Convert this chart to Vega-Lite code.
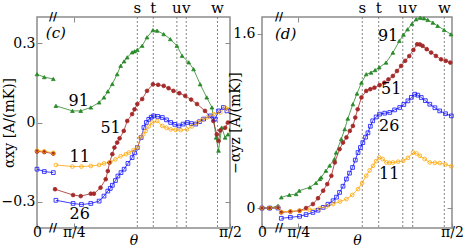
{
  "$schema": "https://vega.github.io/schema/vega-lite/v6.json",
  "background": "white",
  "padding": {"left": 0, "top": 0, "right": 0, "bottom": 0},
  "config": {
    "font": "DejaVu Serif",
    "view": {"stroke": "#8c8c8c", "strokeWidth": 1.5},
    "text": {"font": "DejaVu Serif"},
    "axis": {"domain": false, "grid": false, "labelFont": "DejaVu Serif", "labelFontSize": 14, "labelColor": "black", "tickColor": "#8c8c8c", "tickWidth": 1, "titleFont": "DejaVu Serif", "titleFontSize": 14, "titleFontWeight": "normal", "titleColor": "black", "labelOverlap": false, "labelFlush": false, "labelBound": false}
  },
  "datasets": {
    "L": [
      {"x": 34.4, "y": 0.183, "s": "91", "g": "a"}, {"x": 36.5, "y": 0.172, "s": "91", "g": "a"}, {"x": 39.1, "y": 0.165, "s": "91", "g": "a"},
      {"x": 39.85, "y": 0.063, "s": "91", "g": "b"}, {"x": 44.6, "y": 0.044, "s": "91", "g": "b"}, {"x": 47.0, "y": 0.044, "s": "91", "g": "b"}, {"x": 49.9, "y": 0.057, "s": "91", "g": "b"}, {"x": 52.3, "y": 0.076, "s": "91", "g": "b"}, {"x": 53.7, "y": 0.095, "s": "91", "g": "b"}, {"x": 54.8, "y": 0.118, "s": "91", "g": "b"}, {"x": 56.1, "y": 0.146, "s": "91", "g": "b"}, {"x": 57.5, "y": 0.183, "s": "91", "g": "b"}, {"x": 58.5, "y": 0.215, "s": "91", "g": "b"}, {"x": 59.5, "y": 0.232, "s": "91", "g": "b"}, {"x": 60.4, "y": 0.247, "s": "91", "g": "b"}, {"x": 61.8, "y": 0.266, "s": "91", "g": "b"}, {"x": 62.5, "y": 0.27, "s": "91", "g": "b"}, {"x": 63.3, "y": 0.275, "s": "91", "g": "b"}, {"x": 64.7, "y": 0.291, "s": "91", "g": "b"}, {"x": 66.1, "y": 0.323, "s": "91", "g": "b"}, {"x": 67.8, "y": 0.35, "s": "91", "g": "b"}, {"x": 69.0, "y": 0.348, "s": "91", "g": "b"}, {"x": 70.9, "y": 0.335, "s": "91", "g": "b"}, {"x": 72.8, "y": 0.316, "s": "91", "g": "b"}, {"x": 74.7, "y": 0.291, "s": "91", "g": "b"}, {"x": 76.2, "y": 0.253, "s": "91", "g": "b"}, {"x": 78.1, "y": 0.228, "s": "91", "g": "b"}, {"x": 79.5, "y": 0.202, "s": "91", "g": "b"}, {"x": 81.4, "y": 0.145, "s": "91", "g": "b"}, {"x": 83.3, "y": 0.095, "s": "91", "g": "b"}, {"x": 84.8, "y": 0.057, "s": "91", "g": "b"}, {"x": 86.0, "y": -0.057, "s": "91", "g": "b"}, {"x": 86.7, "y": -0.107, "s": "91", "g": "b"}, {"x": 87.6, "y": -0.019, "s": "91", "g": "b"}, {"x": 88.6, "y": -0.057, "s": "91", "g": "b"}, {"x": 89.4, "y": -0.045, "s": "91", "g": "b"},
      {"x": 34.4, "y": -0.11, "s": "51", "g": "a"}, {"x": 36.5, "y": -0.112, "s": "51", "g": "a"}, {"x": 39.1, "y": -0.118, "s": "51", "g": "a"},
      {"x": 39.6, "y": -0.253, "s": "51", "g": "b"}, {"x": 44.8, "y": -0.275, "s": "51", "g": "b"}, {"x": 47.0, "y": -0.279, "s": "51", "g": "b"}, {"x": 49.9, "y": -0.27, "s": "51", "g": "b"}, {"x": 50.8, "y": -0.27, "s": "51", "g": "b"}, {"x": 52.7, "y": -0.247, "s": "51", "g": "b"}, {"x": 54.2, "y": -0.215, "s": "51", "g": "b"}, {"x": 54.8, "y": -0.184, "s": "51", "g": "b"}, {"x": 55.3, "y": -0.152, "s": "51", "g": "b"}, {"x": 56.1, "y": -0.12, "s": "51", "g": "b"}, {"x": 56.7, "y": -0.095, "s": "51", "g": "b"}, {"x": 57.5, "y": -0.076, "s": "51", "g": "b"}, {"x": 58.2, "y": -0.06, "s": "51", "g": "b"}, {"x": 59.4, "y": -0.032, "s": "51", "g": "b"}, {"x": 60.4, "y": 0.006, "s": "51", "g": "b"}, {"x": 61.8, "y": 0.032, "s": "51", "g": "b"}, {"x": 62.5, "y": 0.05, "s": "51", "g": "b"}, {"x": 63.3, "y": 0.07, "s": "51", "g": "b"}, {"x": 64.7, "y": 0.089, "s": "51", "g": "b"}, {"x": 66.1, "y": 0.12, "s": "51", "g": "b"}, {"x": 67.8, "y": 0.145, "s": "51", "g": "b"}, {"x": 69.3, "y": 0.143, "s": "51", "g": "b"}, {"x": 70.9, "y": 0.139, "s": "51", "g": "b"}, {"x": 72.3, "y": 0.13, "s": "51", "g": "b"}, {"x": 73.7, "y": 0.12, "s": "51", "g": "b"}, {"x": 75.4, "y": 0.111, "s": "51", "g": "b"}, {"x": 77.1, "y": 0.101, "s": "51", "g": "b"}, {"x": 78.8, "y": 0.087, "s": "51", "g": "b"}, {"x": 80.5, "y": 0.07, "s": "51", "g": "b"}, {"x": 82.8, "y": 0.044, "s": "51", "g": "b"}, {"x": 85.2, "y": 0.006, "s": "51", "g": "b"}, {"x": 86.2, "y": -0.045, "s": "51", "g": "b"}, {"x": 86.7, "y": -0.07, "s": "51", "g": "b"}, {"x": 87.2, "y": -0.03, "s": "51", "g": "b"}, {"x": 88.6, "y": -0.02, "s": "51", "g": "b"}, {"x": 89.4, "y": 0.0, "s": "51", "g": "b"},
      {"x": 34.4, "y": -0.177, "s": "26", "g": "a"}, {"x": 36.5, "y": -0.186, "s": "26", "g": "a"}, {"x": 39.1, "y": -0.19, "s": "26", "g": "a"},
      {"x": 39.85, "y": -0.295, "s": "26", "g": "b"}, {"x": 44.8, "y": -0.307, "s": "26", "g": "b"}, {"x": 47.2, "y": -0.311, "s": "26", "g": "b"}, {"x": 49.9, "y": -0.307, "s": "26", "g": "b"}, {"x": 52.3, "y": -0.298, "s": "26", "g": "b"}, {"x": 53.7, "y": -0.279, "s": "26", "g": "b"}, {"x": 54.8, "y": -0.26, "s": "26", "g": "b"}, {"x": 55.5, "y": -0.25, "s": "26", "g": "b"}, {"x": 56.1, "y": -0.238, "s": "26", "g": "b"}, {"x": 57.0, "y": -0.22, "s": "26", "g": "b"}, {"x": 57.7, "y": -0.203, "s": "26", "g": "b"}, {"x": 58.6, "y": -0.19, "s": "26", "g": "b"}, {"x": 59.5, "y": -0.177, "s": "26", "g": "b"}, {"x": 60.6, "y": -0.155, "s": "26", "g": "b"}, {"x": 61.8, "y": -0.133, "s": "26", "g": "b"}, {"x": 62.5, "y": -0.115, "s": "26", "g": "b"}, {"x": 63.3, "y": -0.095, "s": "26", "g": "b"}, {"x": 64.4, "y": -0.057, "s": "26", "g": "b"}, {"x": 65.2, "y": -0.019, "s": "26", "g": "b"}, {"x": 65.9, "y": 0.0, "s": "26", "g": "b"}, {"x": 66.6, "y": 0.012, "s": "26", "g": "b"}, {"x": 67.3, "y": 0.02, "s": "26", "g": "b"}, {"x": 68.0, "y": 0.025, "s": "26", "g": "b"}, {"x": 69.2, "y": 0.023, "s": "26", "g": "b"}, {"x": 70.5, "y": 0.019, "s": "26", "g": "b"}, {"x": 71.7, "y": 0.01, "s": "26", "g": "b"}, {"x": 72.9, "y": 0.0, "s": "26", "g": "b"}, {"x": 74.1, "y": -0.007, "s": "26", "g": "b"}, {"x": 75.3, "y": -0.013, "s": "26", "g": "b"}, {"x": 76.5, "y": -0.006, "s": "26", "g": "b"}, {"x": 77.7, "y": 0.0, "s": "26", "g": "b"}, {"x": 78.9, "y": -0.004, "s": "26", "g": "b"}, {"x": 80.1, "y": -0.006, "s": "26", "g": "b"}, {"x": 81.2, "y": 0.003, "s": "26", "g": "b"}, {"x": 82.4, "y": 0.013, "s": "26", "g": "b"}, {"x": 84.3, "y": 0.025, "s": "26", "g": "b"}, {"x": 85.7, "y": 0.013, "s": "26", "g": "b"}, {"x": 86.7, "y": 0.044, "s": "26", "g": "b"}, {"x": 88.1, "y": 0.057, "s": "26", "g": "b"}, {"x": 89.1, "y": 0.044, "s": "26", "g": "b"},
      {"x": 34.4, "y": -0.106, "s": "11", "g": "a"}, {"x": 36.5, "y": -0.109, "s": "11", "g": "a"}, {"x": 39.1, "y": -0.115, "s": "11", "g": "a"},
      {"x": 39.85, "y": -0.161, "s": "11", "g": "b"}, {"x": 44.6, "y": -0.167, "s": "11", "g": "b"}, {"x": 47.2, "y": -0.167, "s": "11", "g": "b"}, {"x": 49.9, "y": -0.165, "s": "11", "g": "b"}, {"x": 52.3, "y": -0.161, "s": "11", "g": "b"}, {"x": 53.7, "y": -0.155, "s": "11", "g": "b"}, {"x": 55.5, "y": -0.15, "s": "11", "g": "b"}, {"x": 57.0, "y": -0.14, "s": "11", "g": "b"}, {"x": 58.5, "y": -0.128, "s": "11", "g": "b"}, {"x": 60.0, "y": -0.12, "s": "11", "g": "b"}, {"x": 60.9, "y": -0.114, "s": "11", "g": "b"}, {"x": 62.2, "y": -0.105, "s": "11", "g": "b"}, {"x": 63.3, "y": -0.095, "s": "11", "g": "b"}, {"x": 64.2, "y": -0.057, "s": "11", "g": "b"}, {"x": 65.0, "y": -0.045, "s": "11", "g": "b"}, {"x": 65.7, "y": -0.032, "s": "11", "g": "b"}, {"x": 66.6, "y": -0.015, "s": "11", "g": "b"}, {"x": 67.6, "y": 0.0, "s": "11", "g": "b"}, {"x": 69.0, "y": 0.006, "s": "11", "g": "b"}, {"x": 70.5, "y": -0.013, "s": "11", "g": "b"}, {"x": 71.7, "y": -0.02, "s": "11", "g": "b"}, {"x": 72.9, "y": -0.026, "s": "11", "g": "b"}, {"x": 74.3, "y": -0.028, "s": "11", "g": "b"}, {"x": 75.8, "y": -0.029, "s": "11", "g": "b"}, {"x": 77.6, "y": -0.026, "s": "11", "g": "b"}, {"x": 79.0, "y": -0.015, "s": "11", "g": "b"}, {"x": 80.5, "y": 0.0, "s": "11", "g": "b"}, {"x": 82.0, "y": 0.01, "s": "11", "g": "b"}, {"x": 83.4, "y": 0.019, "s": "11", "g": "b"}, {"x": 85.3, "y": 0.032, "s": "11", "g": "b"}, {"x": 87.2, "y": 0.038, "s": "11", "g": "b"}, {"x": 88.6, "y": 0.057, "s": "11", "g": "b"}, {"x": 89.5, "y": 0.05, "s": "11", "g": "b"}
    ],
    "R": [
      {"x": 34.4, "y": 0.0, "s": "91", "g": "a"}, {"x": 36.65, "y": 0.0, "s": "91", "g": "a"}, {"x": 39.1, "y": 0.02, "s": "91", "g": "a"},
      {"x": 40.05, "y": 0.098, "s": "91", "g": "b"}, {"x": 42.4, "y": 0.12, "s": "91", "g": "b"}, {"x": 44.4, "y": 0.128, "s": "91", "g": "b"}, {"x": 45.3, "y": 0.159, "s": "91", "g": "b"}, {"x": 48.4, "y": 0.19, "s": "91", "g": "b"}, {"x": 50.2, "y": 0.23, "s": "91", "g": "b"}, {"x": 51.3, "y": 0.266, "s": "91", "g": "b"}, {"x": 51.7, "y": 0.281, "s": "91", "g": "b"}, {"x": 53.1, "y": 0.342, "s": "91", "g": "b"}, {"x": 54.2, "y": 0.39, "s": "91", "g": "b"}, {"x": 55.6, "y": 0.449, "s": "91", "g": "b"}, {"x": 56.1, "y": 0.509, "s": "91", "g": "b"}, {"x": 57.6, "y": 0.632, "s": "91", "g": "b"}, {"x": 58.6, "y": 0.723, "s": "91", "g": "b"}, {"x": 59.5, "y": 0.82, "s": "91", "g": "b"}, {"x": 61.0, "y": 0.952, "s": "91", "g": "b"}, {"x": 62.2, "y": 1.05, "s": "91", "g": "b"}, {"x": 63.5, "y": 1.15, "s": "91", "g": "b"}, {"x": 64.9, "y": 1.227, "s": "91", "g": "b"}, {"x": 66.3, "y": 1.242, "s": "91", "g": "b"}, {"x": 67.5, "y": 1.265, "s": "91", "g": "b"}, {"x": 68.7, "y": 1.29, "s": "91", "g": "b"}, {"x": 70.7, "y": 1.334, "s": "91", "g": "b"}, {"x": 72.7, "y": 1.425, "s": "91", "g": "b"}, {"x": 74.6, "y": 1.532, "s": "91", "g": "b"}, {"x": 75.8, "y": 1.59, "s": "91", "g": "b"}, {"x": 77.0, "y": 1.639, "s": "91", "g": "b"}, {"x": 78.3, "y": 1.69, "s": "91", "g": "b"}, {"x": 79.5, "y": 1.731, "s": "91", "g": "b"}, {"x": 80.7, "y": 1.745, "s": "91", "g": "b"}, {"x": 81.8, "y": 1.74, "s": "91", "g": "b"}, {"x": 82.9, "y": 1.725, "s": "91", "g": "b"}, {"x": 84.4, "y": 1.7, "s": "91", "g": "b"}, {"x": 85.8, "y": 1.67, "s": "91", "g": "b"}, {"x": 87.7, "y": 1.633, "s": "91", "g": "b"}, {"x": 89.7, "y": 1.593, "s": "91", "g": "b"},
      {"x": 34.4, "y": 0.0, "s": "51", "g": "a"}, {"x": 36.65, "y": 0.0, "s": "51", "g": "a"}, {"x": 39.1, "y": 0.003, "s": "51", "g": "a"},
      {"x": 40.05, "y": -0.04, "s": "51", "g": "b"}, {"x": 42.7, "y": -0.033, "s": "51", "g": "b"}, {"x": 45.4, "y": -0.025, "s": "51", "g": "b"}, {"x": 47.3, "y": 0.0, "s": "51", "g": "b"}, {"x": 49.3, "y": 0.037, "s": "51", "g": "b"}, {"x": 50.8, "y": 0.09, "s": "51", "g": "b"}, {"x": 52.3, "y": 0.159, "s": "51", "g": "b"}, {"x": 53.5, "y": 0.22, "s": "51", "g": "b"}, {"x": 54.7, "y": 0.296, "s": "51", "g": "b"}, {"x": 55.7, "y": 0.418, "s": "51", "g": "b"}, {"x": 57.1, "y": 0.54, "s": "51", "g": "b"}, {"x": 58.1, "y": 0.6, "s": "51", "g": "b"}, {"x": 59.1, "y": 0.647, "s": "51", "g": "b"}, {"x": 60.1, "y": 0.708, "s": "51", "g": "b"}, {"x": 61.0, "y": 0.753, "s": "51", "g": "b"}, {"x": 61.7, "y": 0.83, "s": "51", "g": "b"}, {"x": 62.4, "y": 0.906, "s": "51", "g": "b"}, {"x": 63.5, "y": 1.014, "s": "51", "g": "b"}, {"x": 64.9, "y": 1.074, "s": "51", "g": "b"}, {"x": 66.1, "y": 1.09, "s": "51", "g": "b"}, {"x": 67.3, "y": 1.104, "s": "51", "g": "b"}, {"x": 68.8, "y": 1.127, "s": "51", "g": "b"}, {"x": 70.2, "y": 1.15, "s": "51", "g": "b"}, {"x": 71.4, "y": 1.18, "s": "51", "g": "b"}, {"x": 72.7, "y": 1.211, "s": "51", "g": "b"}, {"x": 73.9, "y": 1.257, "s": "51", "g": "b"}, {"x": 75.1, "y": 1.303, "s": "51", "g": "b"}, {"x": 76.3, "y": 1.35, "s": "51", "g": "b"}, {"x": 77.5, "y": 1.394, "s": "51", "g": "b"}, {"x": 78.7, "y": 1.45, "s": "51", "g": "b"}, {"x": 79.8, "y": 1.502, "s": "51", "g": "b"}, {"x": 80.6, "y": 1.5, "s": "51", "g": "b"}, {"x": 81.4, "y": 1.487, "s": "51", "g": "b"}, {"x": 82.6, "y": 1.457, "s": "51", "g": "b"}, {"x": 83.9, "y": 1.426, "s": "51", "g": "b"}, {"x": 85.3, "y": 1.395, "s": "51", "g": "b"}, {"x": 86.8, "y": 1.364, "s": "51", "g": "b"}, {"x": 88.2, "y": 1.35, "s": "51", "g": "b"}, {"x": 89.5, "y": 1.334, "s": "51", "g": "b"},
      {"x": 34.4, "y": 0.0, "s": "26", "g": "a"}, {"x": 36.65, "y": 0.0, "s": "26", "g": "a"}, {"x": 39.1, "y": 0.0, "s": "26", "g": "a"},
      {"x": 40.05, "y": -0.094, "s": "26", "g": "b"}, {"x": 42.7, "y": -0.085, "s": "26", "g": "b"}, {"x": 45.4, "y": -0.076, "s": "26", "g": "b"}, {"x": 47.3, "y": -0.06, "s": "26", "g": "b"}, {"x": 49.3, "y": -0.04, "s": "26", "g": "b"}, {"x": 50.8, "y": -0.02, "s": "26", "g": "b"}, {"x": 52.3, "y": 0.006, "s": "26", "g": "b"}, {"x": 53.7, "y": 0.035, "s": "26", "g": "b"}, {"x": 55.2, "y": 0.067, "s": "26", "g": "b"}, {"x": 56.2, "y": 0.1, "s": "26", "g": "b"}, {"x": 57.1, "y": 0.143, "s": "26", "g": "b"}, {"x": 58.1, "y": 0.2, "s": "26", "g": "b"}, {"x": 59.1, "y": 0.266, "s": "26", "g": "b"}, {"x": 60.0, "y": 0.32, "s": "26", "g": "b"}, {"x": 60.9, "y": 0.372, "s": "26", "g": "b"}, {"x": 61.7, "y": 0.44, "s": "26", "g": "b"}, {"x": 62.5, "y": 0.509, "s": "26", "g": "b"}, {"x": 63.2, "y": 0.555, "s": "26", "g": "b"}, {"x": 63.9, "y": 0.6, "s": "26", "g": "b"}, {"x": 64.7, "y": 0.65, "s": "26", "g": "b"}, {"x": 65.4, "y": 0.69, "s": "26", "g": "b"}, {"x": 66.1, "y": 0.75, "s": "26", "g": "b"}, {"x": 66.8, "y": 0.8, "s": "26", "g": "b"}, {"x": 67.8, "y": 0.835, "s": "26", "g": "b"}, {"x": 68.8, "y": 0.861, "s": "26", "g": "b"}, {"x": 70.3, "y": 0.87, "s": "26", "g": "b"}, {"x": 71.8, "y": 0.877, "s": "26", "g": "b"}, {"x": 73.2, "y": 0.9, "s": "26", "g": "b"}, {"x": 74.7, "y": 0.922, "s": "26", "g": "b"}, {"x": 75.9, "y": 0.95, "s": "26", "g": "b"}, {"x": 77.1, "y": 0.983, "s": "26", "g": "b"}, {"x": 78.1, "y": 1.015, "s": "26", "g": "b"}, {"x": 79.1, "y": 1.044, "s": "26", "g": "b"}, {"x": 80.0, "y": 1.035, "s": "26", "g": "b"}, {"x": 81.0, "y": 1.014, "s": "26", "g": "b"}, {"x": 82.2, "y": 0.985, "s": "26", "g": "b"}, {"x": 83.5, "y": 0.952, "s": "26", "g": "b"}, {"x": 85.0, "y": 0.92, "s": "26", "g": "b"}, {"x": 86.4, "y": 0.891, "s": "26", "g": "b"}, {"x": 88.1, "y": 0.865, "s": "26", "g": "b"}, {"x": 89.8, "y": 0.845, "s": "26", "g": "b"},
      {"x": 34.4, "y": 0.0, "s": "11", "g": "a"}, {"x": 36.65, "y": 0.0, "s": "11", "g": "a"}, {"x": 39.1, "y": 0.003, "s": "11", "g": "a"},
      {"x": 40.05, "y": -0.035, "s": "11", "g": "b"}, {"x": 42.7, "y": -0.03, "s": "11", "g": "b"}, {"x": 45.4, "y": -0.025, "s": "11", "g": "b"}, {"x": 48.3, "y": -0.015, "s": "11", "g": "b"}, {"x": 51.3, "y": -0.003, "s": "11", "g": "b"}, {"x": 53.3, "y": 0.015, "s": "11", "g": "b"}, {"x": 55.2, "y": 0.037, "s": "11", "g": "b"}, {"x": 57.2, "y": 0.06, "s": "11", "g": "b"}, {"x": 59.1, "y": 0.082, "s": "11", "g": "b"}, {"x": 60.8, "y": 0.12, "s": "11", "g": "b"}, {"x": 62.5, "y": 0.174, "s": "11", "g": "b"}, {"x": 63.7, "y": 0.23, "s": "11", "g": "b"}, {"x": 64.9, "y": 0.296, "s": "11", "g": "b"}, {"x": 65.9, "y": 0.345, "s": "11", "g": "b"}, {"x": 66.9, "y": 0.387, "s": "11", "g": "b"}, {"x": 67.8, "y": 0.43, "s": "11", "g": "b"}, {"x": 68.7, "y": 0.464, "s": "11", "g": "b"}, {"x": 69.7, "y": 0.45, "s": "11", "g": "b"}, {"x": 70.8, "y": 0.418, "s": "11", "g": "b"}, {"x": 71.7, "y": 0.415, "s": "11", "g": "b"}, {"x": 72.7, "y": 0.418, "s": "11", "g": "b"}, {"x": 74.2, "y": 0.425, "s": "11", "g": "b"}, {"x": 75.7, "y": 0.433, "s": "11", "g": "b"}, {"x": 77.1, "y": 0.46, "s": "11", "g": "b"}, {"x": 78.6, "y": 0.509, "s": "11", "g": "b"}, {"x": 79.6, "y": 0.5, "s": "11", "g": "b"}, {"x": 80.6, "y": 0.479, "s": "11", "g": "b"}, {"x": 82.0, "y": 0.45, "s": "11", "g": "b"}, {"x": 83.5, "y": 0.418, "s": "11", "g": "b"}, {"x": 85.0, "y": 0.415, "s": "11", "g": "b"}, {"x": 86.4, "y": 0.412, "s": "11", "g": "b"}, {"x": 88.1, "y": 0.4, "s": "11", "g": "b"}, {"x": 89.8, "y": 0.382, "s": "11", "g": "b"}
    ],
    "VL": [{"x": 63.3, "n": "s"}, {"x": 67.9, "n": "t"}, {"x": 74.7, "n": "u"}, {"x": 77.4, "n": "v"}, {"x": 86.4, "n": "w"}],
    "VR": [{"x": 63.75, "n": "s"}, {"x": 68.55, "n": "t"}, {"x": 75.6, "n": "u"}, {"x": 78.5, "n": "v"}, {"x": 87.75, "n": "w"}],
    "TL": [{"x": 46.4, "y": 0.081, "t": "91"}, {"x": 55.6, "y": -0.022, "t": "51"}, {"x": 46.7, "y": -0.131, "t": "11"}, {"x": 46.7, "y": -0.348, "t": "26"}],
    "TR": [{"x": 71.3, "y": 1.575, "t": "91"}, {"x": 72.2, "y": 1.09, "t": "51"}, {"x": 71.6, "y": 0.751, "t": "26"}, {"x": 71.6, "y": 0.311, "t": "11"}],
    "PL": [{"x": 39.85, "y": 0.338, "t": "(c)"}],
    "PR": [{"x": 41.3, "y": 1.6, "t": "(d)"}],
    "BL": [{"x": 39.0, "y": -0.4}, {"x": 39.0, "y": 0.4}],
    "BR": [{"x": 39.4, "y": -0.183}, {"x": 39.4, "y": 1.752}]
  },
  "bounds": "flush",
  "spacing": 32,
  "hconcat": [
    {
      "width": 193, "height": 211,
      "resolve": {"axis": {"x": "independent", "y": "independent"}},
      "layer": [
        {"data": {"name": "VL"}, "mark": {"type": "rule", "strokeDash": [2, 2], "color": "#777", "strokeWidth": 0.9},
         "encoding": {"x": {"field": "x", "type": "quantitative", "scale": {"domain": [34.4, 90], "nice": false, "zero": false}, "axis": null}}},
        {"data": {"name": "VL"}, "mark": {"type": "text", "baseline": "bottom", "dy": -1, "fontSize": 15, "color": "black"},
         "encoding": {"x": {"field": "x", "type": "quantitative", "scale": {"domain": [34.4, 90], "nice": false, "zero": false}, "axis": null},
                      "y": {"datum": 0.4, "type": "quantitative", "scale": {"domain": [-0.4, 0.4], "nice": false, "zero": false}, "axis": null},
                      "text": {"field": "n"}}},
        {"data": {"name": "L"}, "mark": {"type": "line", "strokeWidth": 0.8},
         "encoding": {
           "x": {"field": "x", "type": "quantitative", "scale": {"domain": [34.4, 90], "nice": false, "zero": false},
                 "axis": {"orient": "bottom", "values": [34.4, 45, 90], "labelExpr": "datum.value < 40 ? '0' : (datum.value < 60 ? 'π/4' : 'π/2')", "tickSize": -5, "labelPadding": 2, "title": "θ", "titleFontStyle": "italic", "titlePadding": -6}},
           "y": {"field": "y", "type": "quantitative", "scale": {"domain": [-0.4, 0.4], "nice": false, "zero": false},
                 "axis": {"orient": "left", "values": [-0.3, 0, 0.3], "labelExpr": "datum.value == 0 ? '0' : format(datum.value, '.1f')", "tickSize": -5, "labelPadding": 7, "title": "αxy [A/(mK)]", "titlePadding": -15}},
           "stroke": {"field": "s", "type": "nominal", "scale": {"domain": ["91", "51", "26", "11"], "range": ["#2a8a2a", "#a52a2a", "#1010ff", "#ffa500"]}, "legend": null},
           "detail": {"field": "g"}
         }},
        {"data": {"name": "L"}, "mark": {"type": "point", "size": 14, "strokeWidth": 0.8, "opacity": 1},
         "encoding": {
           "x": {"field": "x", "type": "quantitative", "scale": {"domain": [34.4, 90], "nice": false, "zero": false}, "axis": null},
           "y": {"field": "y", "type": "quantitative", "scale": {"domain": [-0.4, 0.4], "nice": false, "zero": false}, "axis": null},
           "stroke": {"field": "s", "type": "nominal", "scale": {"domain": ["91", "51", "26", "11"], "range": ["#2a8a2a", "#a52a2a", "#1010ff", "#ffa500"]}, "legend": null},
           "fill": {"field": "s", "type": "nominal", "scale": {"domain": ["91", "51", "26", "11"], "range": ["#2a8a2a", "#a52a2a", "rgba(255,255,255,0)", "rgba(255,255,255,0)"]}, "legend": null},
           "shape": {"field": "s", "type": "nominal", "scale": {"domain": ["91", "51", "26", "11"], "range": ["triangle-up", "circle", "square", "circle"]}, "legend": null}
         }},
        {"data": {"name": "TL"}, "mark": {"type": "text", "fontSize": 16, "color": "black"},
         "encoding": {"x": {"field": "x", "type": "quantitative", "scale": {"domain": [34.4, 90], "nice": false, "zero": false}, "axis": null},
                      "y": {"field": "y", "type": "quantitative", "scale": {"domain": [-0.4, 0.4], "nice": false, "zero": false}, "axis": null},
                      "text": {"field": "t"}}},
        {"data": {"name": "PL"}, "mark": {"type": "text", "fontSize": 15, "fontStyle": "italic", "color": "black"},
         "encoding": {"x": {"field": "x", "type": "quantitative", "scale": {"domain": [34.4, 90], "nice": false, "zero": false}, "axis": null},
                      "y": {"field": "y", "type": "quantitative", "scale": {"domain": [-0.4, 0.4], "nice": false, "zero": false}, "axis": null},
                      "text": {"field": "t"}}},
        {"data": {"name": "BL"}, "mark": {"type": "text", "fontSize": 11, "fontWeight": "bold", "color": "black", "text": "//"},
         "encoding": {"x": {"field": "x", "type": "quantitative", "scale": {"domain": [34.4, 90], "nice": false, "zero": false}, "axis": null},
                      "y": {"field": "y", "type": "quantitative", "scale": {"domain": [-0.4, 0.4], "nice": false, "zero": false}, "axis": null}}},
        {"data": {"name": "L"}, "mark": {"type": "point", "opacity": 0},
         "encoding": {
           "x": {"field": "x", "type": "quantitative", "scale": {"domain": [34.4, 90], "nice": false, "zero": false},
                 "axis": {"orient": "top", "values": [45], "labels": false, "tickSize": -5, "title": null}},
           "y": {"field": "y", "type": "quantitative", "scale": {"domain": [-0.4, 0.4], "nice": false, "zero": false},
                 "axis": {"orient": "right", "values": [-0.3, 0, 0.3], "labels": false, "tickSize": -5, "title": null}}
         }}
      ]
    },
    {
      "width": 190, "height": 211,
      "resolve": {"axis": {"x": "independent", "y": "independent"}},
      "layer": [
        {"data": {"name": "VR"}, "mark": {"type": "rule", "strokeDash": [2, 2], "color": "#777", "strokeWidth": 0.9},
         "encoding": {"x": {"field": "x", "type": "quantitative", "scale": {"domain": [34.4, 90], "nice": false, "zero": false}, "axis": null}}},
        {"data": {"name": "VR"}, "mark": {"type": "text", "baseline": "bottom", "dy": -1, "fontSize": 15, "color": "black"},
         "encoding": {"x": {"field": "x", "type": "quantitative", "scale": {"domain": [34.4, 90], "nice": false, "zero": false}, "axis": null},
                      "y": {"datum": 1.752, "type": "quantitative", "scale": {"domain": [-0.183, 1.752], "nice": false, "zero": false}, "axis": null},
                      "text": {"field": "n"}}},
        {"data": {"name": "R"}, "mark": {"type": "line", "strokeWidth": 0.8},
         "encoding": {
           "x": {"field": "x", "type": "quantitative", "scale": {"domain": [34.4, 90], "nice": false, "zero": false},
                 "axis": {"orient": "bottom", "values": [34.4, 45, 90], "labelExpr": "datum.value < 40 ? '0' : (datum.value < 60 ? 'π/4' : 'π/2')", "tickSize": -5, "labelPadding": 2, "title": "θ", "titleFontStyle": "italic", "titlePadding": -6}},
           "y": {"field": "y", "type": "quantitative", "scale": {"domain": [-0.183, 1.752], "nice": false, "zero": false},
                 "axis": {"orient": "left", "values": [0, 1.6], "labelExpr": "datum.value == 0 ? '0' : format(datum.value, '.1f')", "tickSize": 5, "labelPadding": 2, "title": "−αyz [A/(mK)]", "titlePadding": -10}},
           "stroke": {"field": "s", "type": "nominal", "scale": {"domain": ["91", "51", "26", "11"], "range": ["#2a8a2a", "#a52a2a", "#1010ff", "#ffa500"]}, "legend": null},
           "detail": {"field": "g"}
         }},
        {"data": {"name": "R"}, "mark": {"type": "point", "size": 14, "strokeWidth": 0.8, "opacity": 1},
         "encoding": {
           "x": {"field": "x", "type": "quantitative", "scale": {"domain": [34.4, 90], "nice": false, "zero": false}, "axis": null},
           "y": {"field": "y", "type": "quantitative", "scale": {"domain": [-0.183, 1.752], "nice": false, "zero": false}, "axis": null},
           "stroke": {"field": "s", "type": "nominal", "scale": {"domain": ["91", "51", "26", "11"], "range": ["#2a8a2a", "#a52a2a", "#1010ff", "#ffa500"]}, "legend": null},
           "fill": {"field": "s", "type": "nominal", "scale": {"domain": ["91", "51", "26", "11"], "range": ["#2a8a2a", "#a52a2a", "rgba(255,255,255,0)", "rgba(255,255,255,0)"]}, "legend": null},
           "shape": {"field": "s", "type": "nominal", "scale": {"domain": ["91", "51", "26", "11"], "range": ["triangle-up", "circle", "square", "circle"]}, "legend": null}
         }},
        {"data": {"name": "TR"}, "mark": {"type": "text", "fontSize": 16, "color": "black"},
         "encoding": {"x": {"field": "x", "type": "quantitative", "scale": {"domain": [34.4, 90], "nice": false, "zero": false}, "axis": null},
                      "y": {"field": "y", "type": "quantitative", "scale": {"domain": [-0.183, 1.752], "nice": false, "zero": false}, "axis": null},
                      "text": {"field": "t"}}},
        {"data": {"name": "PR"}, "mark": {"type": "text", "fontSize": 15, "fontStyle": "italic", "color": "black"},
         "encoding": {"x": {"field": "x", "type": "quantitative", "scale": {"domain": [34.4, 90], "nice": false, "zero": false}, "axis": null},
                      "y": {"field": "y", "type": "quantitative", "scale": {"domain": [-0.183, 1.752], "nice": false, "zero": false}, "axis": null},
                      "text": {"field": "t"}}},
        {"data": {"name": "BR"}, "mark": {"type": "text", "fontSize": 11, "fontWeight": "bold", "color": "black", "text": "//"},
         "encoding": {"x": {"field": "x", "type": "quantitative", "scale": {"domain": [34.4, 90], "nice": false, "zero": false}, "axis": null},
                      "y": {"field": "y", "type": "quantitative", "scale": {"domain": [-0.183, 1.752], "nice": false, "zero": false}, "axis": null}}},
        {"data": {"name": "R"}, "mark": {"type": "point", "opacity": 0},
         "encoding": {
           "x": {"field": "x", "type": "quantitative", "scale": {"domain": [34.4, 90], "nice": false, "zero": false},
                 "axis": {"orient": "top", "values": [45], "labels": false, "tickSize": -5, "title": null}},
           "y": {"field": "y", "type": "quantitative", "scale": {"domain": [-0.183, 1.752], "nice": false, "zero": false},
                 "axis": {"orient": "right", "values": [0], "labels": false, "tickSize": -5, "title": null}}
         }}
      ]
    }
  ]
}
